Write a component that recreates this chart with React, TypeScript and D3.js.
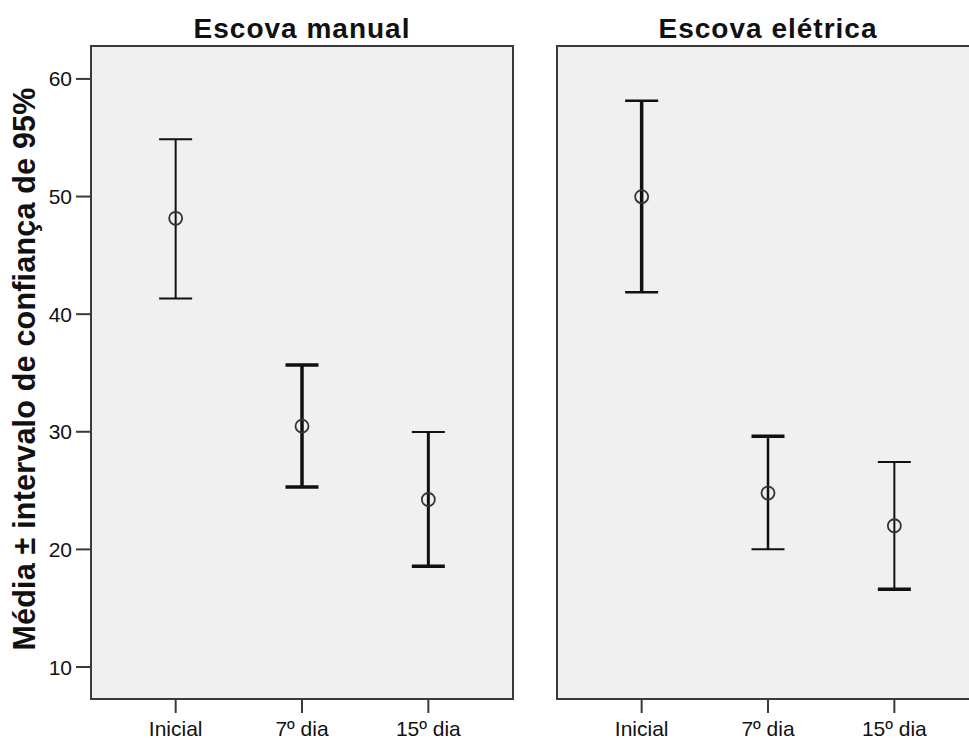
import React from "react";
import * as d3 from "d3";

const categories = ["Inicial", "7º dia", "15º dia"];
const panels = ["Escova manual", "Escova elétrica"];
// mean, lower, upper per category for each panel
const manualMean = [48.15, 30.48, 24.24];
const manualLower = [41.34, 25.31, 18.56];
const manualUpper = [54.87, 35.67, 29.99];
const electricMean = [49.99, 24.79, 22.01];
const electricLower = [41.87, 20.01, 16.61];
const electricUpper = [58.15, 29.63, 27.43];
const yTicks = [10, 20, 30, 40, 50, 60];
const yTitle = "Média ± intervalo de confiança de 95%";

// rendering style only: [stem, top cap, bottom cap] line weights
const weights = [
  [[2, 2, 2], [3.5, 3.5, 3.5], [3, 2, 3.5]],
  [[3.5, 2.5, 2.5], [2.5, 3.5, 2], [2, 2, 3.5]],
];

const W = 969;
const H = 740;
const top = 46;
const bottom = 699;
const panelW = 422;
const panelX = [91, 557];
const font = "'Liberation Sans', Arial, sans-serif";

export default function App() {
  const y = d3.scaleLinear().domain([7.28, 62.8]).range([bottom, top]);
  const data = [
    { mean: manualMean, lo: manualLower, hi: manualUpper },
    { mean: electricMean, lo: electricLower, hi: electricUpper },
  ];
  return (
    <svg
      width={W}
      height={H}
      style={{ position: "absolute", left: 0, top: 0, background: "#fff" }}
      fontFamily={font}
    >
      {panels.map((title, pi) => {
        const x0 = panelX[pi];
        const x = d3
          .scalePoint<string>()
          .domain(categories)
          .range([x0, x0 + panelW])
          .padding(0.67);
        const d = data[pi];
        return (
          <g key={title}>
            <rect x={x0} y={top} width={panelW} height={bottom - top} fill="#f0f0f0" stroke="#3a3a3a" strokeWidth={2} />
            <text x={x0 + panelW / 2} y={38} textAnchor="middle" fontSize={28} fontWeight="bold" letterSpacing={1} fill="#111">
              {title}
            </text>
            {categories.map((c, i) => {
              const cx = x(c)!;
              const [ws, wt, wb] = weights[pi][i];
              return (
                <g key={c}>
                  <line x1={cx} x2={cx} y1={bottom} y2={bottom + 14} stroke="#3a3a3a" strokeWidth={2} />
                  <text x={cx} y={736} textAnchor="middle" fontSize={21} fill="#111">
                    {c}
                  </text>
                  <line x1={cx} x2={cx} y1={y(d.lo[i])} y2={y(d.hi[i])} stroke="#111" strokeWidth={ws} />
                  <line x1={cx - 16.5} x2={cx + 16.5} y1={y(d.hi[i])} y2={y(d.hi[i])} stroke="#111" strokeWidth={wt} />
                  <line x1={cx - 16.5} x2={cx + 16.5} y1={y(d.lo[i])} y2={y(d.lo[i])} stroke="#111" strokeWidth={wb} />
                  <circle cx={cx} cy={y(d.mean[i])} r={6.5} fill="none" stroke="#333" strokeWidth={1.8} />
                </g>
              );
            })}
          </g>
        );
      })}
      {yTicks.map((t) => (
        <g key={t}>
          <line x1={76} x2={91} y1={y(t)} y2={y(t)} stroke="#3a3a3a" strokeWidth={2} />
          <text x={72} y={y(t)} dy="0.36em" textAnchor="end" fontSize={21} fill="#111">
            {t}
          </text>
        </g>
      ))}
      <text
        transform={`translate(35, ${369}) rotate(-90)`}
        textAnchor="middle"
        fontSize={30.5}
        fontWeight="bold"
        letterSpacing={0.2}
        fill="#111"
      >
        {yTitle}
      </text>
    </svg>
  );
}
